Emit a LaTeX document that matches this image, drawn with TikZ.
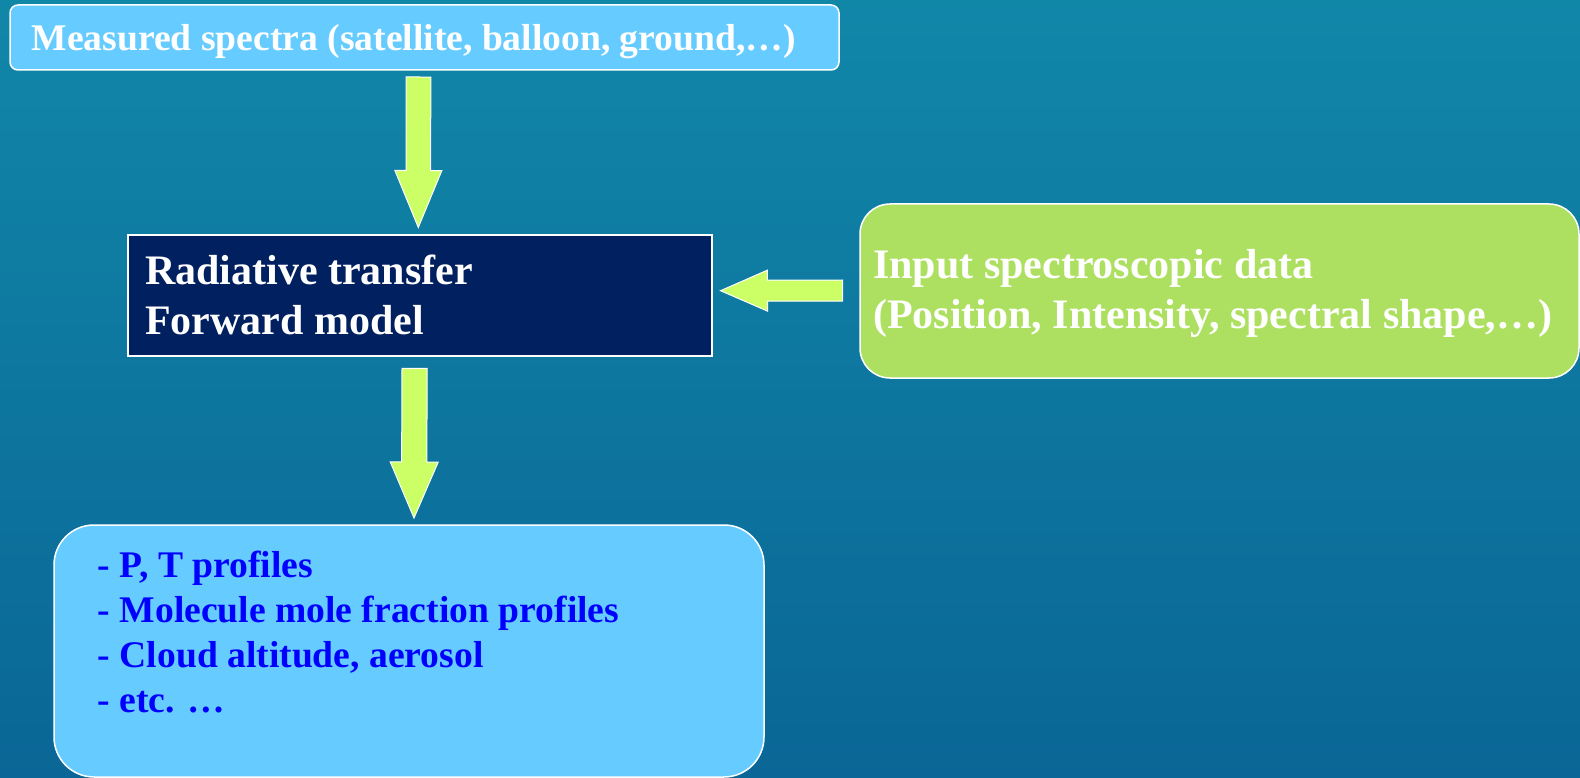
\documentclass[tikz,border=0pt]{standalone}
\usepackage{fontspec}
\setmainfont{Liberation Serif}
\usetikzlibrary{calc}
\definecolor{bgtop}{RGB}{17,135,168}
\definecolor{bgbot}{RGB}{10,102,150}
\definecolor{lightblue}{RGB}{102,204,255}
\definecolor{navybox}{RGB}{0,32,96}
\definecolor{boxgreen}{RGB}{173,224,96}
\definecolor{arrowgreen}{RGB}{204,255,102}
\definecolor{listblue}{RGB}{0,0,255}
\tikzset{
  boxbase/.style={draw=white, line width=1.5pt, inner sep=0pt, outer sep=0pt},
  lbbox/.style={boxbase, fill=lightblue},
  navyrect/.style={boxbase, fill=navybox},
  greenbox/.style={boxbase, fill=boxgreen},
  bigtext/.style={anchor=base west, inner sep=0pt, text=white, font=\fontsize{42}{50}\selectfont\bfseries},
  toptext/.style={anchor=base west, inner sep=0pt, text=white, font=\fontsize{37.6}{45}\selectfont\bfseries},
  listtext/.style={anchor=base west, inner sep=0pt, text=listblue, font=\fontsize{37.6}{45}\selectfont\bfseries},
  blockarrowstyle/.style={fill=arrowgreen, draw=white, line width=1pt, line join=miter}
}
\newcommand\blockarrow[5]{%
  \coordinate (bah) at ($(#2)!#5!(#1)$);
  \draw[blockarrowstyle] ($(#1)!#3!90:(#2)$) -- ($(bah)!#3!90:(#2)$) -- ($(bah)!#4!90:(#2)$) -- (#2) -- ($(bah)!#4!-90:(#2)$) -- ($(bah)!#3!-90:(#2)$) -- ($(#1)!#3!-90:(#2)$) -- cycle;}
\begin{document}
\begin{tikzpicture}[x=1pt,y=-1pt]
\useasboundingbox (0,0) rectangle (1580,778);
\fill[top color=bgtop,bottom color=bgbot] (0,0) rectangle (1580,778);

% boxes
\node[lbbox, rounded corners=8pt, minimum width=829pt, minimum height=65pt] (meas) at (424.5,37.5) {};
\node[navyrect, minimum width=584pt, minimum height=121pt] (rt) at (420,295.5) {};
\node[greenbox, rounded corners=30pt, minimum width=719pt, minimum height=174pt] (inp) at (1219.5,291) {};
\node[lbbox, rounded corners=40pt, minimum width=710pt, minimum height=252pt] (res) at (409,651) {};

% texts
\node[toptext] (meast) at (31.5,51) {Measured spectra (satellite, balloon, ground,…)};
\node[bigtext] (rt1) at (145,284) {Radiative transfer};
\node[bigtext] (rt2) at (145,334) {Forward model};
\node[bigtext] (inp1) at (873,279) {Input spectroscopic data};
\node[bigtext] (inp2) at (873,328) {(Position, Intensity, spectral shape,…)};
\node[listtext] (l1) at (97.6,577) {- P, T profiles};
\node[listtext] (l2) at (97.6,622) {- Molecule mole fraction profiles};
\node[listtext] (l3) at (97.6,667) {- Cloud altitude, aerosol};
\node[listtext] (l4) at (97.6,712) {- etc. …};

% arrows
\coordinate (a1s) at ($(meas.south)+(-6,7)$);
\coordinate (a1e) at ($(rt.north)+(-1.7,-7.5)$);
\blockarrow{a1s}{a1e}{12.3pt}{23.5pt}{57pt}
\coordinate (a2s) at ($(inp.west)+(-17.4,-0.5)$);
\coordinate (a2e) at ($(rt.east)+(8.5,-4.8)$);
\blockarrow{a2s}{a2e}{10.5pt}{20.5pt}{47pt}
\coordinate (a3s) at ($(rt.south)+(-5.4,12.3)$);
\coordinate (a3e) at ($(res.north)+(5,-7)$);
\blockarrow{a3s}{a3e}{12.6pt}{24pt}{56pt}
\end{tikzpicture}
\end{document}
